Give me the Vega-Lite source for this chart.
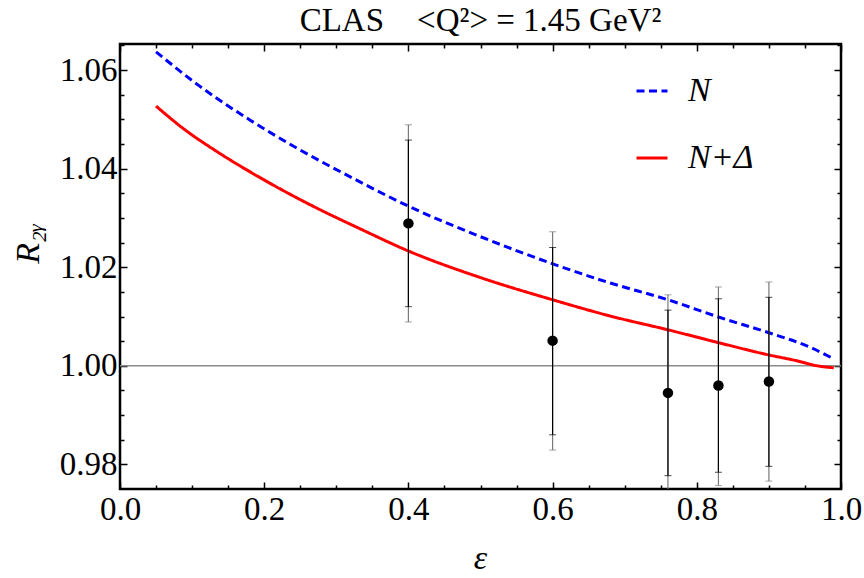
{
  "$schema": "https://vega.github.io/schema/vega-lite/v6.json",
  "width": 721,
  "height": 445,
  "autosize": "none",
  "padding": {"left": 120, "top": 44, "right": 23, "bottom": 89},
  "background": "white",
  "config": {
    "view": {"stroke": "black", "strokeWidth": 2.5},
    "font": "Liberation Serif",
    "axis": {
      "grid": false,
      "domain": false,
      "labelFont": "Liberation Serif",
      "labelFontSize": 33,
      "labelColor": "black",
      "labelFlush": false,
      "labelOverlap": false,
      "tickColor": "black",
      "tickWidth": 1.5,
      "titleFont": "Liberation Serif",
      "titleColor": "black"
    }
  },
  "title": {
    "text": "CLAS\u00a0\u00a0\u00a0\u00a0<Q²> = 1.45 GeV²",
    "font": "Liberation Serif",
    "fontSize": 33,
    "fontWeight": "normal",
    "color": "black",
    "anchor": "middle",
    "frame": "group",
    "baseline": "alphabetic",
    "offset": -21
  },
  "datasets": {
    "curves": [
      {"eps": 0.05, "r": 1.0637, "model": "N"},
      {"eps": 0.11, "r": 1.0568, "model": "N"},
      {"eps": 0.18, "r": 1.0499, "model": "N"},
      {"eps": 0.245, "r": 1.0442, "model": "N"},
      {"eps": 0.32, "r": 1.0383, "model": "N"},
      {"eps": 0.4, "r": 1.0324, "model": "N"},
      {"eps": 0.5, "r": 1.0262, "model": "N"},
      {"eps": 0.6, "r": 1.0207, "model": "N"},
      {"eps": 0.68, "r": 1.0168, "model": "N"},
      {"eps": 0.76, "r": 1.0134, "model": "N"},
      {"eps": 0.83, "r": 1.0099, "model": "N"},
      {"eps": 0.9, "r": 1.0067, "model": "N"},
      {"eps": 0.955, "r": 1.0039, "model": "N"},
      {"eps": 0.99, "r": 1.0014, "model": "N"},
      {"eps": 0.05, "r": 1.0527, "model": "N+Δ"},
      {"eps": 0.09, "r": 1.0479, "model": "N+Δ"},
      {"eps": 0.132, "r": 1.0437, "model": "N+Δ"},
      {"eps": 0.194, "r": 1.0382, "model": "N+Δ"},
      {"eps": 0.2635, "r": 1.0327, "model": "N+Δ"},
      {"eps": 0.333, "r": 1.0278, "model": "N+Δ"},
      {"eps": 0.4, "r": 1.0233, "model": "N+Δ"},
      {"eps": 0.5, "r": 1.0179, "model": "N+Δ"},
      {"eps": 0.6, "r": 1.0134, "model": "N+Δ"},
      {"eps": 0.68, "r": 1.0101, "model": "N+Δ"},
      {"eps": 0.76, "r": 1.0073, "model": "N+Δ"},
      {"eps": 0.83, "r": 1.0047, "model": "N+Δ"},
      {"eps": 0.9, "r": 1.0022, "model": "N+Δ"},
      {"eps": 0.933, "r": 1.0012, "model": "N+Δ"},
      {"eps": 0.971, "r": 0.9999, "model": "N+Δ"},
      {"eps": 0.99, "r": 0.9996, "model": "N+Δ"}
    ],
    "clas": [
      {"eps": 0.4, "r": 1.0289, "in_lo": 1.012, "in_hi": 1.0458, "out_lo": 1.0089, "out_hi": 1.0489},
      {"eps": 0.6, "r": 1.0051, "in_lo": 0.986, "in_hi": 1.024, "out_lo": 0.9829, "out_hi": 1.0272},
      {"eps": 0.76, "r": 0.9945, "in_lo": 0.9777, "in_hi": 1.0113, "out_lo": 0.9746, "out_hi": 1.0144},
      {"eps": 0.83, "r": 0.996, "in_lo": 0.9784, "in_hi": 1.0136, "out_lo": 0.9757, "out_hi": 1.016},
      {"eps": 0.9, "r": 0.9968, "in_lo": 0.9796, "in_hi": 1.0139, "out_lo": 0.9766, "out_hi": 1.017}
    ],
    "unity": [{"level": 1.0}]
  },
  "layer": [
    {
      "data": {"name": "unity"},
      "mark": {"type": "rule", "color": "#8c8c8c", "strokeWidth": 1.5},
      "encoding": {
        "y": {"field": "level", "type": "quantitative",
              "scale": {"domain": [0.975, 1.0653], "nice": false, "zero": false}, "axis": null}
      }
    },
    {
      "data": {"name": "curves"},
      "mark": {"type": "line", "strokeWidth": 3, "interpolate": "monotone", "clip": true},
      "encoding": {
        "x": {"field": "eps", "type": "quantitative",
              "scale": {"domain": [0, 1], "nice": false, "zero": false},
              "axis": {"orient": "bottom", "values": [0, 0.2, 0.4, 0.6, 0.8, 1.0], "format": ".1f",
                       "tickSize": -7, "labelPadding": 11,
                       "title": "ε", "titleFontSize": 34, "titleFontStyle": "italic", "titleFontWeight": "normal",
                       "titleX": 360, "titleY": 79, "titleBaseline": "alphabetic", "titleAlign": "center"}},
        "y": {"field": "r", "type": "quantitative",
              "scale": {"domain": [0.975, 1.0653], "nice": false, "zero": false},
              "axis": {"orient": "left", "values": [0.98, 1.0, 1.02, 1.04, 1.06], "format": ".2f",
                       "tickSize": -7, "labelPadding": 10,
                       "title": "R₂ᵧ", "titleFontSize": 34, "titleFontStyle": "italic", "titleFontWeight": "normal",
                       "titleAngle": -90, "titleX": -82, "titleY": 199, "titleBaseline": "alphabetic", "titleAlign": "center"}},
        "color": {"field": "model", "type": "nominal",
                  "scale": {"domain": ["N", "N+Δ"], "range": ["#0000ff", "#ff0000"]},
                  "legend": {"title": null, "orient": "none", "legendX": 515, "legendY": 30, "padding": 0,
                             "symbolType": "stroke", "symbolSize": 961, "symbolStrokeWidth": 3,
                             "labelFont": "Liberation Serif", "labelFontSize": 34, "labelFontStyle": "italic",
                             "labelColor": "black", "labelOffset": 19, "rowPadding": 33}},
        "strokeDash": {"field": "model", "type": "nominal",
                       "scale": {"domain": ["N", "N+Δ"], "range": [[8, 4.5], [1, 0]]},
                       "legend": {"title": null, "orient": "none", "legendX": 515, "legendY": 30, "padding": 0,
                                  "symbolType": "stroke", "symbolSize": 961, "symbolStrokeWidth": 3,
                                  "labelFont": "Liberation Serif", "labelFontSize": 34, "labelFontStyle": "italic",
                                  "labelColor": "black", "labelOffset": 19, "rowPadding": 33}}
      }
    },
    {
      "data": {"name": "clas"},
      "mark": {"type": "rule", "color": "#7a7a7a", "strokeWidth": 1.2, "clip": true},
      "encoding": {
        "x": {"field": "eps", "type": "quantitative",
              "scale": {"domain": [0, 1], "nice": false, "zero": false},
              "axis": {"orient": "bottom", "values": [0.05, 0.1, 0.15, 0.25, 0.3, 0.35, 0.45, 0.5, 0.55, 0.65, 0.7, 0.75, 0.85, 0.9, 0.95],
                       "tickSize": -4, "labels": false, "title": null}},
        "y": {"field": "out_lo", "type": "quantitative",
              "scale": {"domain": [0.975, 1.0653], "nice": false, "zero": false},
              "axis": {"orient": "left", "values": [0.985, 0.99, 0.995, 1.005, 1.01, 1.015, 1.025, 1.03, 1.035, 1.045, 1.05, 1.055, 1.065],
                       "tickSize": -4, "labels": false, "title": null}},
        "y2": {"field": "out_hi"}
      }
    },
    {
      "data": {"name": "clas"},
      "mark": {"type": "rule", "color": "black", "strokeWidth": 1.2, "clip": true},
      "encoding": {
        "x": {"field": "eps", "type": "quantitative",
              "scale": {"domain": [0, 1], "nice": false, "zero": false},
              "axis": {"orient": "top", "values": [0, 0.2, 0.4, 0.6, 0.8, 1.0],
                       "tickSize": -7, "labels": false, "title": null}},
        "y": {"field": "in_lo", "type": "quantitative",
              "scale": {"domain": [0.975, 1.0653], "nice": false, "zero": false},
              "axis": {"orient": "right", "values": [0.98, 1.0, 1.02, 1.04, 1.06],
                       "tickSize": -7, "labels": false, "title": null}},
        "y2": {"field": "in_hi"}
      }
    },
    {
      "data": {"name": "clas"},
      "mark": {"type": "tick", "orient": "horizontal", "color": "#7a7a7a", "size": 7, "thickness": 1, "clip": true},
      "encoding": {
        "x": {"field": "eps", "type": "quantitative",
              "scale": {"domain": [0, 1], "nice": false, "zero": false},
              "axis": {"orient": "top", "values": [0.05, 0.1, 0.15, 0.25, 0.3, 0.35, 0.45, 0.5, 0.55, 0.65, 0.7, 0.75, 0.85, 0.9, 0.95],
                       "tickSize": -4, "labels": false, "title": null}},
        "y": {"field": "out_lo", "type": "quantitative",
              "scale": {"domain": [0.975, 1.0653], "nice": false, "zero": false},
              "axis": {"orient": "right", "values": [0.985, 0.99, 0.995, 1.005, 1.01, 1.015, 1.025, 1.03, 1.035, 1.045, 1.05, 1.055, 1.065],
                       "tickSize": -4, "labels": false, "title": null}}
      }
    },
    {
      "data": {"name": "clas"},
      "mark": {"type": "tick", "orient": "horizontal", "color": "#7a7a7a", "size": 7, "thickness": 1, "clip": true},
      "encoding": {
        "x": {"field": "eps", "type": "quantitative", "scale": {"domain": [0, 1], "nice": false, "zero": false}, "axis": null},
        "y": {"field": "out_hi", "type": "quantitative", "scale": {"domain": [0.975, 1.0653], "nice": false, "zero": false}, "axis": null}
      }
    },
    {
      "data": {"name": "clas"},
      "mark": {"type": "tick", "orient": "horizontal", "color": "black", "size": 7, "thickness": 1, "clip": true},
      "encoding": {
        "x": {"field": "eps", "type": "quantitative", "scale": {"domain": [0, 1], "nice": false, "zero": false}, "axis": null},
        "y": {"field": "in_lo", "type": "quantitative", "scale": {"domain": [0.975, 1.0653], "nice": false, "zero": false}, "axis": null}
      }
    },
    {
      "data": {"name": "clas"},
      "mark": {"type": "tick", "orient": "horizontal", "color": "black", "size": 7, "thickness": 1, "clip": true},
      "encoding": {
        "x": {"field": "eps", "type": "quantitative", "scale": {"domain": [0, 1], "nice": false, "zero": false}, "axis": null},
        "y": {"field": "in_hi", "type": "quantitative", "scale": {"domain": [0.975, 1.0653], "nice": false, "zero": false}, "axis": null}
      }
    },
    {
      "data": {"name": "clas"},
      "mark": {"type": "circle", "color": "black", "size": 110, "opacity": 1},
      "encoding": {
        "x": {"field": "eps", "type": "quantitative", "scale": {"domain": [0, 1], "nice": false, "zero": false}, "axis": null},
        "y": {"field": "r", "type": "quantitative", "scale": {"domain": [0.975, 1.0653], "nice": false, "zero": false}, "axis": null}
      }
    }
  ],
  "resolve": {"axis": {"x": "independent", "y": "independent"}}
}
